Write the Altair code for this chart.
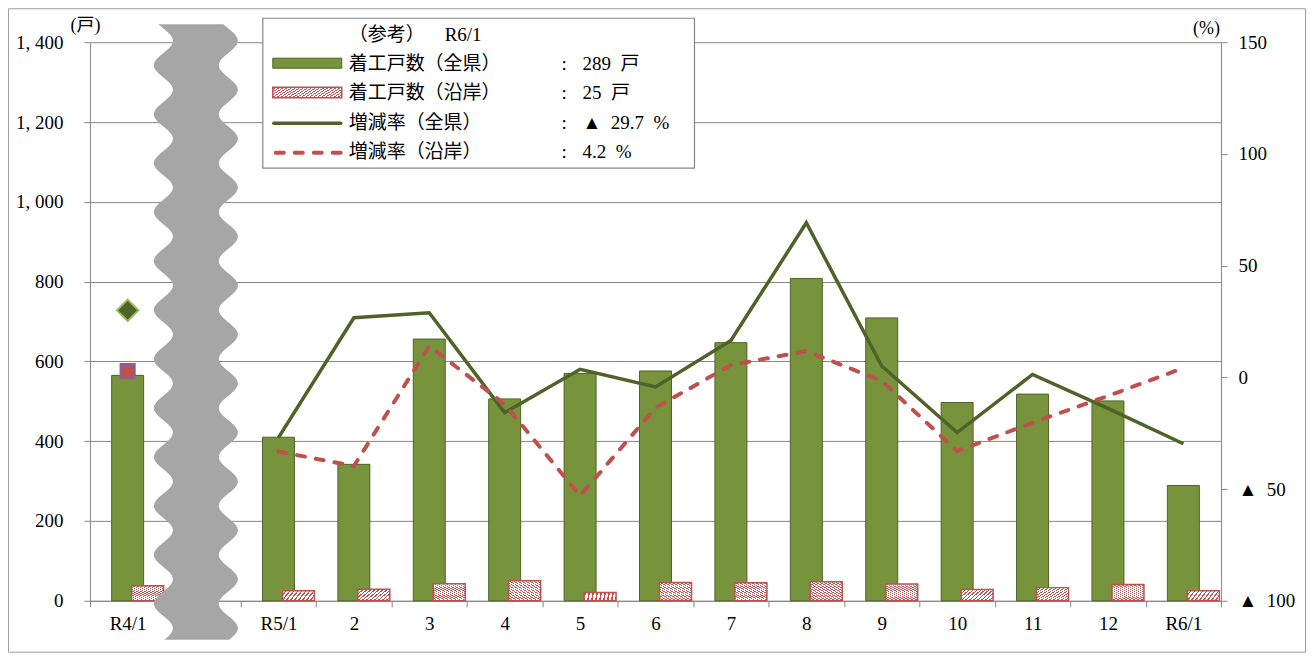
import altair as alt
import pandas as pd
import numpy as np

FONT = "Liberation Serif, Noto Sans CJK JP"
GRAY = "#868686"
GREEN = "#77933C"
DKGREEN = "#4F6228"
RED = "#C0504D"

# ---- data ----
months = ["R4/1", " ", "R5/1", "2", "3", "4", "5", "6", "7", "8", "9", "10", "11", "12", "R6/1"]
bar_months = ["R4/1", "R5/1", "2", "3", "4", "5", "6", "7", "8", "9", "10", "11", "12", "R6/1"]
starts_pref = [565, 410, 342, 656, 506, 570, 576, 647, 808, 709, 497, 518, 501, 289]
starts_coast = [38, 25, 29, 43, 50, 21, 46, 45, 48, 42, 28, 33, 41, 25]
rate_months = bar_months[1:]
rate_pref = [-27.0, 26.7, 28.9, -15.8, 3.6, -4.3, 16.5, 69.2, 5.1, -24.7, 1.3, -13.9, -29.7]
rate_coast = [-33.2, -39.7, 14.0, -12.0, -53.0, -13.6, 5.5, 11.8, -1.6, -33.0, -20.3, -8.3, 4.2]
r4_rate_pref = 30.0
r4_rate_coast = 2.8
left_ticks = [0, 200, 400, 600, 800, 1000, 1200, 1400]
right_ticks = [-100, -50, 0, 50, 100, 150]
legend_names = ["着工戸数（全県）", "着工戸数（沿岸）", "増減率（全県）", "増減率（沿岸）"]
legend_ref = "R6/1"


def rate_text(v):
    return ("▲\u2002" if v < 0 else "") + f"{abs(v):.1f}\u2002%"


legend_values = [f"{starts_pref[-1]}\u2002戸", f"{starts_coast[-1]}\u2002戸",
                 rate_text(rate_pref[-1]), rate_text(rate_coast[-1])]

W, H = 1132, 559
AX_FS = 19


def hatch(n):
    stops = []
    for k in range(n):
        a = k / n
        b = (k + 0.38) / n
        c = (k + 1) / n
        stops += [{"offset": a, "color": RED}, {"offset": b, "color": RED},
                  {"offset": b, "color": "white"}, {"offset": c, "color": "white"}]
    return {"gradient": "linear", "x1": 0, "y1": 1, "x2": 1, "y2": 0, "stops": stops}


bar_df = pd.DataFrame({"month": bar_months, "pref": starts_pref, "coast": starts_coast})
rate_df = pd.DataFrame({"month": rate_months * 2,
                        "rate": rate_pref + rate_coast,
                        "series": ["pref"] * len(rate_months) + ["coast"] * len(rate_months),
                        "idx": list(range(len(rate_months))) * 2})

xscale = alt.Scale(domain=months, paddingInner=0, paddingOuter=0)
x_axis = alt.Axis(title=None, labelAngle=0, tickBand="extent", tickSize=6, tickColor=GRAY,
                  domainColor=GRAY, labelFont=FONT, labelFontSize=AX_FS, labelColor="black",
                  labelPadding=8, grid=False)
left_axis = alt.Axis(values=left_ticks, labelExpr="replace(format(datum.value, ','), ',', ', ')",
                     title="(戸)", titleAngle=0, titleX=-5, titleY=-17, titleAlign="center",
                     titleBaseline="middle", titleFont=FONT, titleFontSize=18, titleFontWeight="normal",
                     titleColor="black", grid=True, gridColor=GRAY, tickSize=6, tickColor=GRAY,
                     domainColor=GRAY, labelFont=FONT, labelFontSize=AX_FS, labelColor="black",
                     labelPadding=21)
right_axis = alt.Axis(orient="right", values=right_ticks,
                      labelExpr="datum.value < 0 ? '▲\u2002' + format(-datum.value, 'd') : format(datum.value, 'd')",
                      title="(%)", titleAngle=0, titleX=-15, titleY=-14, titleAlign="center",
                      titleBaseline="middle", titleFont=FONT, titleFontSize=18, titleFontWeight="normal",
                      titleColor="black", grid=False, tickSize=6, tickColor=GRAY, domainColor=GRAY,
                      labelFont=FONT, labelFontSize=AX_FS, labelColor="black", labelPadding=11,
                      labelAlign="left")
yscale_l = alt.Scale(domain=[0, 1400], nice=False)
yscale_r = alt.Scale(domain=[-100, 150], nice=False)

base_b = alt.Chart(bar_df)
green = base_b.mark_bar(size=32, fill=GREEN, stroke=DKGREEN, strokeWidth=1).encode(
    x=alt.X("month:N", scale=xscale, axis=x_axis),
    y=alt.Y("pref:Q", scale=yscale_l, axis=left_axis))
pink = base_b.mark_bar(size=32, xOffset=20, fill=hatch(16), stroke=RED, strokeWidth=1.5).encode(
    x=alt.X("month:N", scale=xscale, axis=x_axis),
    y=alt.Y("coast:Q", scale=yscale_l, axis=left_axis))
bars_layer = alt.layer(green, pink)

xr = alt.X("month:N", scale=xscale, axis=None)
yr = alt.Y("rate:Q", scale=yscale_r, axis=right_axis)
line_pref = alt.Chart(rate_df).transform_filter("datum.series == 'pref'").mark_line(
    color=DKGREEN, strokeWidth=3.5).encode(x=xr, y=yr, order="idx:Q")
line_coast = alt.Chart(rate_df).transform_filter("datum.series == 'coast'").mark_line(
    color=RED, strokeWidth=4, strokeDash=[8, 11], strokeCap="round").encode(x=xr, y=yr, order="idx:Q")
diamond = alt.Chart(pd.DataFrame({"month": [bar_months[0]], "rate": [r4_rate_pref]})).mark_point(
    shape="diamond", filled=True, fill=DKGREEN, stroke="#9BBB59", strokeWidth=2, size=460,
    opacity=1).encode(x=xr, y=yr)
square = alt.Chart(pd.DataFrame({"month": [bar_months[0]], "rate": [r4_rate_coast]})).mark_point(
    shape="square", filled=True, fill=RED, stroke="#8064A2", strokeWidth=2, size=200,
    opacity=1).encode(x=xr, y=yr)
pct_layer = alt.layer(line_pref, line_coast, diamond, square)

# axis-break decoration (wavy band across the gap category)
wy = np.arange(-18, 599, 1.0)
wl = 73.5 - 9.5 * np.cos(2 * np.pi * (wy - 23) / 49)
wave_df = pd.DataFrame({"wy": wy, "wl": wl, "wr": wl + 65})
wave = alt.Chart(wave_df).mark_area(orient="horizontal", color="#A6A6A6", opacity=1).encode(
    y=alt.Y("wy:Q", scale=alt.Scale(domain=[0, H], reverse=True, nice=False, zero=False), axis=None),
    x=alt.X("wl:Q", scale=alt.Scale(domain=[0, W], nice=False, zero=False), axis=None),
    x2="wr:Q")


def one():
    return pd.DataFrame({"a": [0]})


def txt(s, x, y, align="left", size=19):
    return alt.Chart(pd.DataFrame({"t": [s]})).mark_text(
        align=align, baseline="middle", font=FONT, fontSize=size, color="black").encode(
        text="t:N", x=alt.value(x), y=alt.value(y))


border = alt.Chart(one()).mark_rect(fillOpacity=0, stroke="#A0A0A0", strokeWidth=1).encode(
    x=alt.value(-81.5), x2=alt.value(1216.5), y=alt.value(-33.5), y2=alt.value(610.5))
leg_box = alt.Chart(one()).mark_rect(fill="white", stroke=GRAY, strokeWidth=1.2).encode(
    x=alt.value(173), x2=alt.value(605), y=alt.value(-24), y2=alt.value(126))
row_y = [21.3, 51.3, 81.3, 110.3]
sym1 = alt.Chart(one()).mark_rect(fill=GREEN, stroke=DKGREEN, strokeWidth=1).encode(
    x=alt.value(183), x2=alt.value(252), y=alt.value(16), y2=alt.value(26))
sym2 = alt.Chart(one()).mark_rect(fill=hatch(34), stroke=RED, strokeWidth=1.5).encode(
    x=alt.value(183), x2=alt.value(252), y=alt.value(45), y2=alt.value(55.5))
sym3 = alt.Chart(one()).mark_rule(color=DKGREEN, strokeWidth=3.5, strokeCap="round").encode(
    x=alt.value(184), x2=alt.value(251), y=alt.value(81))
sym4 = alt.Chart(one()).mark_rule(color=RED, strokeWidth=4, strokeDash=[8, 11], strokeCap="round").encode(
    x=alt.value(186), x2=alt.value(251), y=alt.value(110.5))

legend_layers = [leg_box, sym1, sym2, sym3, sym4,
                 txt("（参考）", 259, -7), txt(legend_ref, 355, -7)]
for i in range(4):
    legend_layers += [txt(legend_names[i], 259, row_y[i]),
                      txt(":", 472, row_y[i]),
                      txt(legend_values[i], 493, row_y[i])]

chart = alt.layer(border, bars_layer, pct_layer, wave, *legend_layers).resolve_scale(
    x="independent", y="independent").properties(
    width=W, height=H,
    autosize=alt.AutoSizeParams(type="none"),
    padding={"left": 82, "top": 34, "right": 85, "bottom": 52},
    background="white").configure_view(stroke=None)

chart.save("out.html", embed_options={"renderer": "svg", "actions": False})
